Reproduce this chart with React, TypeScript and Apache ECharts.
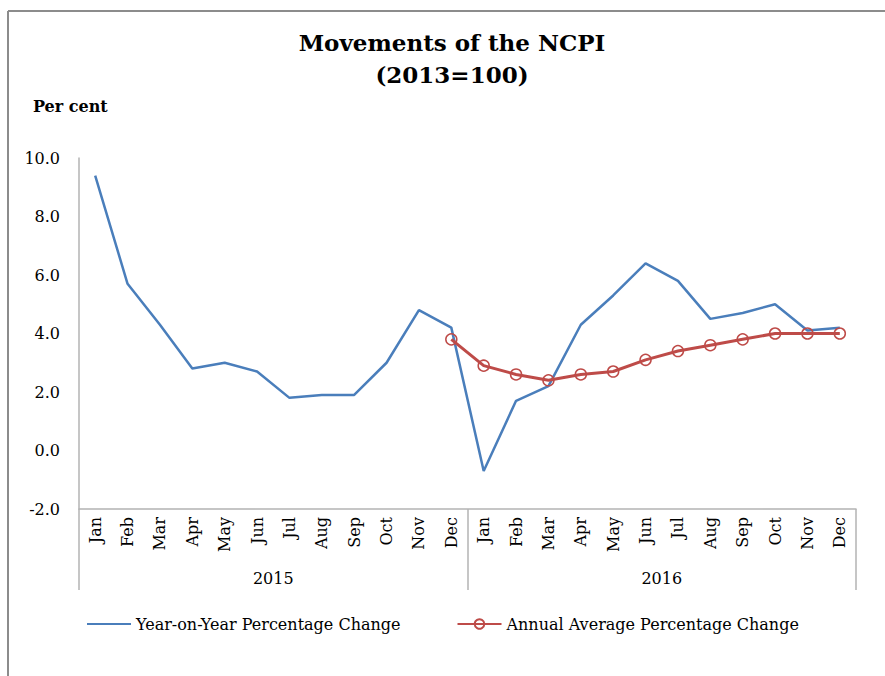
import React, { useEffect, useRef } from "react";
import * as echarts from "echarts";

const months = ["Jan","Feb","Mar","Apr","May","Jun","Jul","Aug","Sep","Oct","Nov","Dec","Jan","Feb","Mar","Apr","May","Jun","Jul","Aug","Sep","Oct","Nov","Dec"];
const years = ["2015", "2016"];
const yoyChange = [9.4, 5.7, 4.3, 2.8, 3.0, 2.7, 1.8, 1.9, 1.9, 3.0, 4.8, 4.2, -0.7, 1.7, 2.2, 4.3, 5.3, 6.4, 5.8, 4.5, 4.7, 5.0, 4.1, 4.2];
const annualAvgChange = [null, null, null, null, null, null, null, null, null, null, null, 3.8, 2.9, 2.6, 2.4, 2.6, 2.7, 3.1, 3.4, 3.6, 3.8, 4.0, 4.0, 4.0];
const yTicks = { min: -2, max: 10, interval: 2 };

const FONT = "DejaVu Serif";
const AXIS_GRAY = "#b3b3b3";
const BLUE = "#4a7ebb";
const RED = "#be4b48";

export default function App() {
  const ref = useRef<HTMLDivElement>(null);
  useEffect(() => {
    if (!ref.current) return;
    const chart = echarts.init(ref.current, null, { renderer: "svg" });
    chart.setOption({
      animation: false,
      backgroundColor: "#ffffff",
      graphic: [
        { type: "line", shape: { x1: 8, y1: 11, x2: 8, y2: 676 }, style: { stroke: "#8c8c8c", lineWidth: 2 } },
        { type: "line", shape: { x1: 8, y1: 11, x2: 885, y2: 11 }, style: { stroke: "#8c8c8c", lineWidth: 2 } },
        { type: "text", x: 452, y: 31, style: { text: "Movements of the NCPI", font: `bold 23px "${FONT}"`, fill: "#000", textAlign: "center" } },
        { type: "text", x: 452, y: 63, style: { text: "(2013=100)", font: `bold 23px "${FONT}"`, fill: "#000", textAlign: "center" } },
        { type: "text", x: 33, y: 98, style: { text: "Per cent", font: `bold 16px "${FONT}"`, fill: "#000" } },
      ],
      legend: {
        left: 86,
        top: 616,
        padding: 0,
        itemWidth: 44,
        itemHeight: 12,
        itemGap: 56,
        textStyle: { fontFamily: FONT, fontSize: 16, color: "#000" },
        data: [
          { name: "Year-on-Year Percentage Change", itemStyle: { opacity: 0 } },
          { name: "Annual Average Percentage Change" },
        ],
      },
      grid: { left: 79, right: 29, top: 158, bottom: 167, containLabel: false },
      xAxis: [
        {
          type: "category",
          data: months,
          position: "bottom",
          boundaryGap: true,
          axisLine: { show: true, onZero: false, lineStyle: { color: AXIS_GRAY, width: 1.5 } },
          axisTick: { show: false },
          axisLabel: { interval: 0, rotate: 90, margin: 8, fontFamily: FONT, fontSize: 16, color: "#000" },
        },
        {
          type: "category",
          data: years,
          position: "bottom",
          boundaryGap: true,
          axisLine: { show: false, onZero: false },
          axisTick: { show: true, inside: false, length: 81, lineStyle: { color: AXIS_GRAY, width: 1.5 } },
          axisLabel: { interval: 0, margin: 61, fontFamily: FONT, fontSize: 16, color: "#000" },
        },
      ],
      yAxis: {
        type: "value",
        min: yTicks.min,
        max: yTicks.max,
        interval: yTicks.interval,
        axisLine: { show: true, lineStyle: { color: AXIS_GRAY, width: 1.5 } },
        axisTick: { show: false },
        splitLine: { show: false },
        axisLabel: {
          margin: 19,
          fontFamily: FONT,
          fontSize: 16,
          color: "#000",
          formatter: (v: number) => v.toFixed(1),
        },
      },
      series: [
        {
          name: "Year-on-Year Percentage Change",
          type: "line",
          xAxisIndex: 0,
          data: yoyChange,
          symbol: "none",
          lineStyle: { color: BLUE, width: 2.5 },
          itemStyle: { color: BLUE },
        },
        {
          name: "Annual Average Percentage Change",
          type: "line",
          xAxisIndex: 0,
          data: annualAvgChange,
          symbol: "circle",
          symbolSize: 11,
          showSymbol: true,
          lineStyle: { color: RED, width: 3 },
          itemStyle: { color: "rgba(255,255,255,0)", borderColor: RED, borderWidth: 1.5 },
        },
      ],
    });
    return () => chart.dispose();
  }, []);
  return <div ref={ref} style={{ position: "fixed", left: 0, top: 0, width: 885, height: 676 }} />;
}
